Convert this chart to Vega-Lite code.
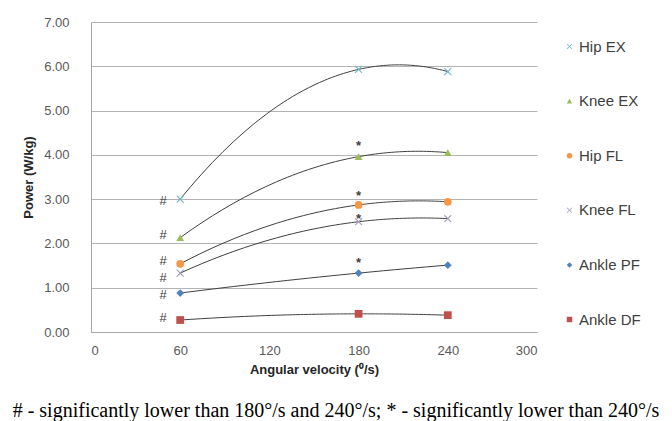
{
  "$schema": "https://vega.github.io/schema/vega-lite/v6.json",
  "autosize": {"type": "none"},
  "width": 446,
  "height": 310,
  "padding": {"left": 91, "top": 22, "right": 135, "bottom": 89},
  "background": "white",
  "config": {
    "view": {"stroke": null},
    "font": "Liberation Sans",
    "axis": {
      "labelFont": "Liberation Sans",
      "labelFontSize": 13,
      "labelColor": "#595959",
      "titleFont": "Liberation Sans",
      "titleFontSize": 13,
      "titleFontWeight": "bold",
      "titleColor": "#262626",
      "domainColor": "#a6a6a6",
      "gridColor": "#b3b3b3",
      "ticks": false
    },
    "legend": {
      "labelFont": "Liberation Sans",
      "labelFontSize": 15,
      "labelColor": "#404040"
    }
  },
  "datasets": {
    "power": [
      {"series": "Hip EX", "velocity": 60, "power": 3.00},
      {"series": "Hip EX", "velocity": 180, "power": 5.93},
      {"series": "Hip EX", "velocity": 240, "power": 5.88},
      {"series": "Knee EX", "velocity": 60, "power": 2.13},
      {"series": "Knee EX", "velocity": 180, "power": 3.96},
      {"series": "Knee EX", "velocity": 240, "power": 4.05},
      {"series": "Hip FL", "velocity": 60, "power": 1.54},
      {"series": "Hip FL", "velocity": 180, "power": 2.87},
      {"series": "Hip FL", "velocity": 240, "power": 2.94},
      {"series": "Knee FL", "velocity": 60, "power": 1.33},
      {"series": "Knee FL", "velocity": 180, "power": 2.49},
      {"series": "Knee FL", "velocity": 240, "power": 2.56},
      {"series": "Ankle PF", "velocity": 60, "power": 0.88},
      {"series": "Ankle PF", "velocity": 180, "power": 1.33},
      {"series": "Ankle PF", "velocity": 240, "power": 1.51},
      {"series": "Ankle DF", "velocity": 60, "power": 0.27},
      {"series": "Ankle DF", "velocity": 180, "power": 0.41},
      {"series": "Ankle DF", "velocity": 240, "power": 0.38}
    ],
    "hash": [
      {"velocity": 60, "power": 2.96, "mark": "#"},
      {"velocity": 60, "power": 2.20, "mark": "#"},
      {"velocity": 60, "power": 1.60, "mark": "#"},
      {"velocity": 60, "power": 1.22, "mark": "#"},
      {"velocity": 60, "power": 0.83, "mark": "#"},
      {"velocity": 60, "power": 0.32, "mark": "#"}
    ],
    "star": [
      {"velocity": 180, "power": 4.30, "mark": "*"},
      {"velocity": 180, "power": 3.17, "mark": "*"},
      {"velocity": 180, "power": 2.65, "mark": "*"},
      {"velocity": 180, "power": 1.65, "mark": "*"}
    ]
  },
  "title": {
    "text": "# - significantly lower than 180°/s and 240°/s; * - significantly lower than 240°/s",
    "orient": "bottom",
    "anchor": "middle",
    "font": "Liberation Serif",
    "fontSize": 20,
    "fontWeight": "normal",
    "color": "#000000",
    "offset": 25,
    "dx": 22
  },
  "layer": [
    {
      "data": {"name": "power"},
      "transform": [
        {"regression": "power", "on": "velocity", "groupby": ["series"], "method": "poly", "order": 2, "extent": [60, 240]}
      ],
      "mark": {"type": "line", "color": "#404040", "strokeWidth": 1},
      "encoding": {
        "x": {
          "field": "velocity", "type": "quantitative",
          "scale": {"domain": [0, 300]},
          "axis": {"values": [0, 60, 120, 180, 240, 300], "grid": false, "title": "Angular velocity (⁰/s)", "labelPadding": 12, "titlePadding": 6}
        },
        "y": {
          "field": "power", "type": "quantitative",
          "scale": {"domain": [0, 7]},
          "axis": {"values": [0, 1, 2, 3, 4, 5, 6, 7], "format": ".2f", "grid": true, "title": "Power (W/kg)", "labelPadding": 22, "titlePadding": 8}
        },
        "detail": {"field": "series"}
      }
    },
    {
      "data": {"name": "power"},
      "mark": {"type": "point", "filled": true, "opacity": 1, "size": 60},
      "encoding": {
        "x": {"field": "velocity", "type": "quantitative"},
        "y": {"field": "power", "type": "quantitative"},
        "color": {
          "field": "series", "type": "nominal",
          "scale": {
            "domain": ["Hip EX", "Knee EX", "Hip FL", "Knee FL", "Ankle PF", "Ankle DF"],
            "range": ["#6fb7c9", "#9bbb59", "#f79646", "#a39fba", "#4f81bd", "#c0504d"]
          },
          "legend": {
            "title": null, "orient": "none", "legendX": 471, "legendY": 17,
            "rowPadding": 38.6, "symbolSize": 30, "labelOffset": 2, "padding": 0
          }
        },
        "shape": {
          "field": "series", "type": "nominal",
          "scale": {
            "domain": ["Hip EX", "Knee EX", "Hip FL", "Knee FL", "Ankle PF", "Ankle DF"],
            "range": [
              "M-1,-0.8L-0.8,-1L0,-0.2L0.8,-1L1,-0.8L0.2,0L1,0.8L0.8,1L0,0.2L-0.8,1L-1,0.8L-0.2,0Z",
              "triangle-up", "circle",
              "M-1,-0.8L-0.8,-1L0,-0.2L0.8,-1L1,-0.8L0.2,0L1,0.8L0.8,1L0,0.2L-0.8,1L-1,0.8L-0.2,0Z",
              "diamond", "square"
            ]
          },
          "legend": null
        }
      }
    },
    {
      "data": {"name": "hash"},
      "mark": {"type": "text", "fontSize": 13, "color": "#404040", "dx": -17, "baseline": "middle"},
      "encoding": {
        "x": {"field": "velocity", "type": "quantitative"},
        "y": {"field": "power", "type": "quantitative"},
        "text": {"field": "mark"}
      }
    },
    {
      "data": {"name": "star"},
      "mark": {"type": "text", "fontSize": 13, "fontWeight": "bold", "color": "#404040", "dy": 4, "baseline": "middle"},
      "encoding": {
        "x": {"field": "velocity", "type": "quantitative"},
        "y": {"field": "power", "type": "quantitative"},
        "text": {"field": "mark"}
      }
    }
  ]
}
